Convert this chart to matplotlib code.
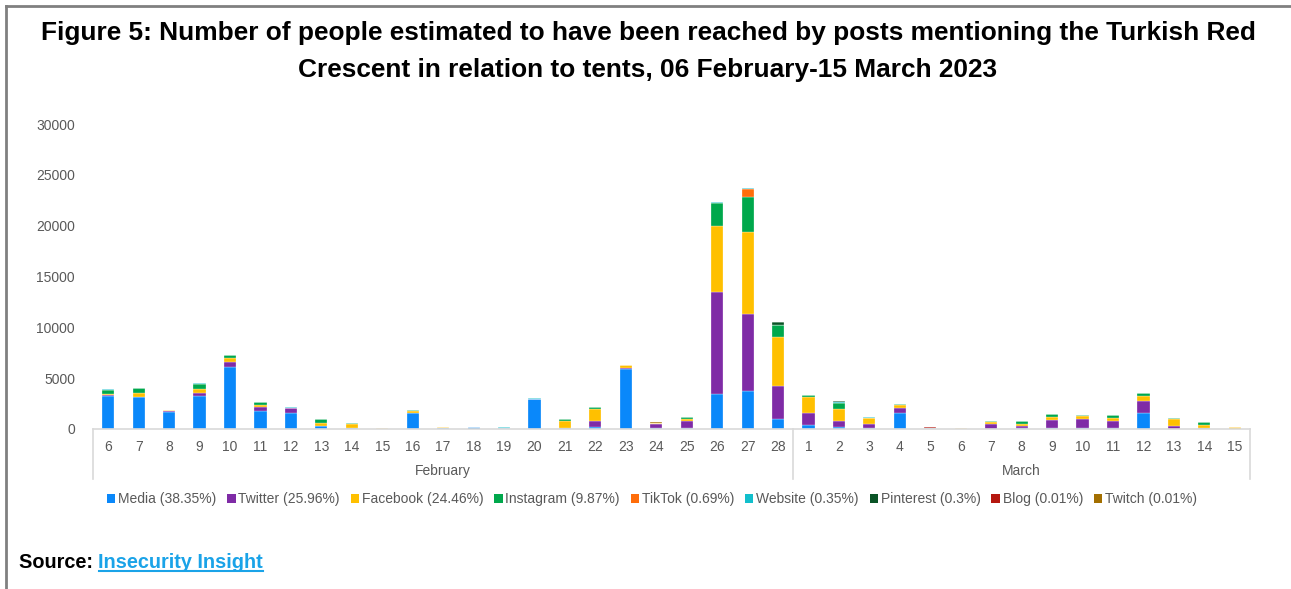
import matplotlib
matplotlib.use("Agg")
import matplotlib.pyplot as plt
from matplotlib.patches import Patch
from matplotlib.lines import Line2D
import numpy as np

# categories: 6-28 February, 1-15 March
feb_days = [str(d) for d in range(6, 29)]
mar_days = [str(d) for d in range(1, 16)]
days = feb_days + mar_days

media = [3250, 3180, 1700, 3250, 6060, 1770, 1540, 330, 130, 30, 1540, 100, 180, 100, 2980, 130, 200, 5870, 130, 130, 3440, 3700, 1010,
         360, 200, 130, 1540, 50, 20, 30, 50, 60, 60, 130, 1540, 30, 100, 20]
twitter = [50, 0, 60, 320, 560, 390, 560, 0, 0, 0, 0, 0, 0, 0, 0, 0, 590, 100, 390, 620, 10060, 7610, 3190,
           1180, 590, 330, 490, 0, 0, 490, 260, 850, 900, 690, 1240, 260, 0, 0]
facebook = [110, 330, 100, 330, 330, 160, 0, 260, 390, 30, 230, 60, 0, 0, 0, 690, 1180, 300, 60, 200, 6460, 8030, 4850,
            1640, 1210, 620, 330, 0, 40, 130, 230, 260, 330, 300, 460, 690, 290, 180]
instagram = [460, 490, 40, 490, 300, 290, 0, 360, 100, 70, 100, 80, 0, 30, 0, 200, 170, 0, 0, 260, 2230, 3500, 1150,
             160, 590, 0, 100, 0, 60, 100, 260, 300, 100, 230, 330, 60, 260, 0]
tiktok = [0, 0, 0, 0, 0, 0, 0, 0, 0, 0, 0, 0, 0, 0, 0, 0, 0, 0, 0, 0, 0, 790, 50,
          0, 0, 0, 0, 70, 0, 0, 0, 0, 0, 0, 0, 0, 0, 0]
website = [60, 0, 0, 130, 0, 0, 40, 0, 0, 0, 0, 0, 20, 50, 70, 0, 0, 0, 0, 0, 100, 70, 0,
           0, 80, 130, 0, 0, 0, 30, 0, 0, 0, 0, 0, 0, 0, 0]
pinterest = [0, 0, 0, 0, 0, 0, 0, 0, 0, 0, 0, 0, 0, 0, 0, 0, 0, 0, 0, 0, 0, 0, 290,
             0, 80, 0, 0, 0, 0, 40, 0, 0, 0, 0, 0, 0, 0, 0]
blog = [0, 0, 0, 0, 0, 0, 0, 0, 0, 0, 0, 0, 0, 0, 0, 0, 0, 0, 0, 0, 0, 0, 0,
        0, 0, 0, 0, 30, 0, 0, 0, 0, 0, 0, 0, 0, 0, 0]
twitch = [0, 0, 0, 0, 0, 0, 0, 0, 0, 0, 0, 0, 0, 0, 0, 0, 0, 0, 60, 0, 0, 0, 0,
          0, 0, 0, 0, 0, 20, 0, 0, 0, 0, 0, 0, 0, 0, 0]

series = [media, twitter, facebook, instagram, tiktok, website, pinterest, blog, twitch]
names = ["Media (38.35%)", "Twitter (25.96%)", "Facebook (24.46%)", "Instagram (9.87%)",
         "TikTok (0.69%)", "Website (0.35%)", "Pinterest (0.3%)", "Blog (0.01%)", "Twitch (0.01%)"]
colors = ["#0A88FA", "#7F2BA6", "#FFC000", "#00A84C", "#FF6D0A", "#12BFCC", "#0A5426", "#B5170F", "#A36F00"]

grey = "#595959"
font = "Liberation Sans"

fig = plt.figure(figsize=(12.91, 5.89), dpi=100)
ax = fig.add_axes([93 / 1291, 1 - 429 / 589, (1250 - 93) / 1291, (429 - 124) / 589])

x = np.arange(len(days))
bottom = np.zeros(len(days))
for vals, c in zip(series, colors):
    vals = np.array(vals, dtype=float)
    ax.bar(x, vals, width=0.4, bottom=bottom, color=c, edgecolor="white", linewidth=0.2)
    bottom += vals

ax.set_xlim(-0.5, len(days) - 0.5)
ax.set_ylim(0, 30000)
ax.set_yticks(range(0, 30001, 5000))
ax.set_yticklabels([str(v) for v in range(0, 30001, 5000)], fontsize=10, color=grey, family=font)
ax.set_xticks(x)
ax.set_xticklabels(days, fontsize=10, color=grey, family=font)
ax.tick_params(axis="y", length=0, pad=13)
ax.tick_params(axis="x", length=0, pad=8)
for s in ["top", "right", "left"]:
    ax.spines[s].set_visible(False)
ax.spines["bottom"].set_color("#D9D9D9")
ax.spines["bottom"].set_linewidth(1.2)

# group separators and group labels
trans = ax.get_xaxis_transform()
for xs in [-0.5, len(feb_days) - 0.5, len(days) - 0.5]:
    ax.add_line(Line2D([xs, xs], [0, -50 / 305], transform=trans, color="#D9D9D9", lw=1.2, clip_on=False))
ax.text((len(feb_days) - 1) / 2, -42 / 305, "February", transform=trans, ha="center", va="center",
        fontsize=10, color=grey, family=font)
ax.text(len(feb_days) + (len(mar_days) - 1) / 2, -42 / 305, "March", transform=trans, ha="center", va="center",
        fontsize=10, color=grey, family=font)

handles = [Patch(facecolor=c, edgecolor="none") for c in colors]
leg = fig.legend(handles, names, loc="center", bbox_to_anchor=(652 / 1291, 1 - 499 / 589), ncol=9,
                 frameon=False, handlelength=0.6, handleheight=0.6, handletextpad=0.2, columnspacing=0.78,
                 prop={"family": font, "size": 10})
for t in leg.get_texts():
    t.set_color(grey)

fig.text(648 / 1291, 1 - 33 / 589,
         "Figure 5: Number of people estimated to have been reached by posts mentioning the Turkish Red",
         ha="center", va="center", fontsize=18.9, fontweight="bold", family=font)
fig.text(648 / 1291, 1 - 70 / 589, "Crescent in relation to tents, 06 February-15 March 2023",
         ha="center", va="center", fontsize=18.9, fontweight="bold", family=font)

src = fig.text(19 / 1291, 1 - 562 / 589, "Source: ", ha="left", va="center", fontsize=14.3,
               fontweight="bold", family=font)
fig.canvas.draw()
r = fig.canvas.get_renderer()
bb = src.get_window_extent(r)
link = fig.text(bb.x1 / 1291, 1 - 562 / 589, "Insecurity Insight", ha="left", va="center", fontsize=14.3,
                fontweight="bold", family=font, color="#1AA3E8")
fig.canvas.draw()
lb = link.get_window_extent(r)
fig.add_artist(Line2D([lb.x0 / 1291, lb.x1 / 1291], [(lb.y0 + 1) / 589, (lb.y0 + 1) / 589],
                      color="#1AA3E8", lw=1.5))

# outer frame (left and top)
fig.add_artist(Line2D([6 / 1291, 6 / 1291], [0, 1 - 6 / 589], color="#808080", lw=2))
fig.add_artist(Line2D([6 / 1291, 1], [1 - 6 / 589, 1 - 6 / 589], color="#808080", lw=2))

fig.savefig("out.png", dpi=100)
